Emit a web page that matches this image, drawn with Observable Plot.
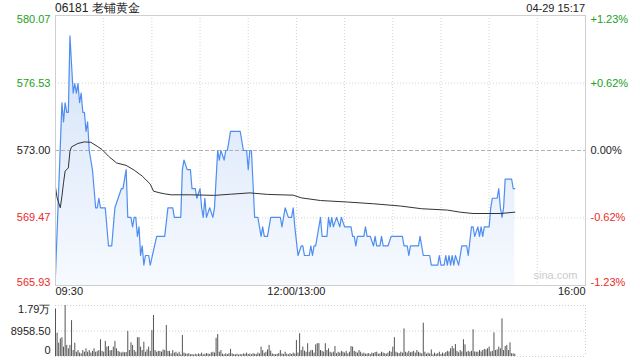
<!DOCTYPE html>
<html><head><meta charset="utf-8">
<script src="https://cdn.jsdelivr.net/npm/d3@7"></script>
<script src="https://cdn.jsdelivr.net/npm/@observablehq/plot@0.6"></script>
<style>
body{margin:0;background:#fff;font-family:"Liberation Sans",Arial,sans-serif;}
#wrap{position:relative;width:640px;height:360px;overflow:hidden;background:#fff;}
.hdr{position:absolute;top:0;color:#222;line-height:16px;white-space:nowrap;}
#price{position:absolute;left:0;top:0;}
#vol{position:absolute;left:0;top:300px;}
</style></head><body>
<div id="wrap">
  <div class="hdr" id="title" style="left:55px;font-size:12px"></div>
  <div class="hdr" id="stamp" style="right:55px;font-size:11px"></div>
  <div id="price"></div>
  <div id="vol"></div>
</div>
<script>
// ---- data ----
const stockTitle = "06181 老铺黄金";
const timeStamp = "04-29 15:17";
const prevClose = 573.00;
const priceTicks = [580.07, 576.53, 573.00, 569.47, 565.93];
const pctLabels = ["+1.23%", "+0.62%", "0.00%", "-0.62%", "-1.23%"];
const timeTicks = [0, 150, 330];           // trading minutes since 09:30 (lunch removed)
const timeLabels = ["09:30", "12:00/13:00", "16:00"];
const volTicks = [17917, 8958.5, 0];
const volLabels = ["1.79万", "8958.50", "0"];

const priceMin = [0,4,5,6,7,8,9,11,12,13,14,15,16,17,18,19,20,21,23,25,26,27,28,31,33,35,37,39,41,42,44,45,47,48,49,50,51,52,53,54,55,56,58,59,63,68,70,73,74,78,79,80,82,84,85,87,88,90,91,92,93,94,96,98,99,101,102,103,105,106,107,109,115,117,119,120,121,122,124,126,128,129,130,132,134,140,141,143,145,147,148,149,151,153,154,155,158,159,160,161,162,165,166,169,170,171,172,173,175,177,178,180,184,185,186,187,188,192,193,194,196,198,199,200,202,203,204,207,209,216,217,219,220,221,226,227,229,233,234,238,239,240,242,243,244,245,246,247,248,249,251,253,256,257,259,260,261,263,264,265,266,267,270,271,272,275,276,277,278,279,280,284,285,286];
const priceVal = [566.5,575.5,574.5,575.5,575.0,575.0,579.0,576.0,576.5,576.0,576.5,575.5,576.0,575.0,575.0,574.0,574.5,573.0,572.0,570.0,570.0,570.5,570.0,570.0,568.0,568.0,570.0,570.5,571.0,571.0,572.0,569.5,569.5,569.0,569.5,569.5,568.5,569.0,567.5,568.0,567.0,567.5,567.5,567.0,568.5,568.5,570.0,570.0,569.5,569.5,572.0,572.5,572.0,572.0,571.0,571.0,570.5,571.0,570.0,569.5,570.5,569.5,570.0,569.5,570.0,573.0,572.5,573.0,572.5,573.0,573.0,574.0,574.0,573.0,573.0,572.0,573.0,573.0,569.5,569.5,568.5,569.0,568.5,568.5,569.5,569.5,569.0,570.0,569.5,569.5,570.0,569.0,567.5,568.0,568.0,567.5,567.5,568.0,567.5,568.0,568.0,569.5,568.5,568.5,569.5,569.0,569.5,569.0,569.5,569.0,569.5,569.0,569.0,568.5,568.5,568.0,568.5,568.5,569.0,568.5,568.5,568.0,568.5,568.0,568.0,568.5,568.0,568.0,568.5,568.5,568.0,568.0,567.5,568.0,568.0,568.5,567.5,567.5,567.0,567.0,567.5,567.0,567.0,567.5,567.0,567.5,567.0,567.5,567.0,567.5,567.0,568.0,568.0,567.5,569.0,569.0,568.5,569.0,568.5,569.0,568.5,569.0,569.0,570.0,570.5,570.5,571.0,570.0,569.5,570.0,571.5,571.5,571.0,571.0];

const avgMin = [0,1,3,4,5,6,8,9,10,14,18,22,26,29,33,38,44,49,54,59,61,65,68,72,84,99,109,121,132,148,153,165,182,198,215,228,244,252,260,277,286];
const avgVal = [571.08,570.52,570.00,570.61,571.31,571.92,572.09,572.96,573.19,573.37,573.45,573.43,573.22,573.05,572.70,572.35,572.22,571.97,571.66,571.24,570.87,570.78,570.73,570.68,570.68,570.65,570.71,570.78,570.70,570.66,570.52,570.38,570.30,570.21,570.09,569.95,569.88,569.77,569.70,569.70,569.77];

const volume = [
16700,8200,4700,6200,6600,3300,17900,3900,2700,3900,
12600,2100,4700,1500,2100,1200,900,2100,1500,2700,
1500,2100,1200,1800,2700,1500,1700,2100,5900,1800,
1500,5300,3300,3500,2000,2100,3300,5300,2700,1800,
1500,1200,1500,1300,1400,8800,2100,4800,3900,2100,
1500,6600,6600,3300,2100,5000,1500,2300,3300,1800,
9100,14400,2100,1500,1800,1800,1500,2300,2100,10900,
1800,1800,900,2100,1200,1500,900,1500,600,7400,
1200,900,800,1000,600,700,500,800,600,900,
700,1200,600,800,1000,900,700,1300,1500,1200,
6400,7700,1500,2100,800,600,900,700,1000,2500,
900,700,600,800,500,700,600,900,800,1200,
700,900,600,1000,800,700,1200,900,3300,2100,
1100,1500,2300,3900,1900,900,700,600,800,1000,
2100,900,700,1500,800,600,1000,700,1200,900,
5600,1200,8000,2100,3300,1900,1500,4500,1500,2100,
2100,1200,4100,4500,4500,2100,1800,1500,4500,2100,
2700,1500,1200,1500,3500,1000,1500,1200,1800,1500,
1200,1800,900,1500,3500,3300,1800,1500,1200,2100,
1500,900,1200,800,900,1000,700,1200,1000,1400,
1500,800,900,1500,1200,1000,800,1200,1800,1500,
3300,6600,1500,1200,1000,1500,1200,9700,1500,1200,
1800,1300,1500,1800,1200,2100,1500,1200,900,11700,
1500,800,1200,900,2300,600,1200,800,1000,1500,
700,1200,900,1400,1800,1600,2700,3500,2700,4200,
1800,1300,2100,1600,5900,4100,1500,1800,1500,1800,
9400,1600,1500,1500,2100,1600,2100,2500,2300,2700,
3300,1600,1800,8300,2100,2300,3300,2700,13200,2100,
3500,3900,2100,4800,1000,900,800];

// ---- build ----
document.getElementById("title").textContent = stockTitle;
document.getElementById("stamp").textContent = timeStamp;

const priceData = priceMin.map((m, i) => ({m, p: priceVal[i]}));
const avgData = avgMin.map((m, i) => ({m, p: avgVal[i]}));
const volData = volume.map((v, i) => ({m: i, v}));
const yLo = priceTicks[priceTicks.length - 1], yHi = priceTicks[0];
const gridMin = d3.range(30, 330, 30);

const GREEN = "#22a022", RED = "#ee2a2a", BLACK = "#222";
const colorOf = v => v > prevClose + 0.001 ? GREEN : v < prevClose - 0.001 ? RED : BLACK;
const anchorOf = i => i === 0 ? "top" : i === priceTicks.length - 1 ? "bottom" : "middle";
const font = {fontFamily: "'Liberation Sans', Arial, sans-serif", fontSize: "11px", background: "transparent", overflow: "visible"};

function gradientDefs() {
  const ns = "http://www.w3.org/2000/svg";
  const defs = document.createElementNS(ns, "defs");
  defs.innerHTML = '<linearGradient id="pg" x1="0" y1="0" x2="0" y2="1">' +
    '<stop offset="0" stop-color="#d3e2f8"/><stop offset="1" stop-color="#f7faff"/></linearGradient>';
  return defs;
}

const pricePlot = Plot.plot({
  width: 640, height: 300,
  marginLeft: 55, marginRight: 55, marginTop: 15, marginBottom: 15,
  x: {domain: [0, 330], axis: null},
  y: {domain: [yLo, yHi], axis: null},
  style: font,
  marks: [
    gradientDefs,
    Plot.ruleX(gridMin, {x: d => d, stroke: "#d4d4d4", strokeDasharray: "1,2"}),
    Plot.ruleY([priceTicks[1], priceTicks[3]], {y: d => d, stroke: "#d4d4d4", strokeDasharray: "1,2"}),
    Plot.areaY(priceData, {x: "m", y1: yLo, y2: "p", fill: "url(#pg)", curve: "linear"}),
    Plot.ruleY([prevClose], {y: d => d, stroke: "#b0b0b0", strokeDasharray: "4,2"}),
    Plot.line(priceData, {x: "m", y: "p", stroke: "#4f8ef0", strokeWidth: 1.2}),
    Plot.line(avgData, {x: "m", y: "p", stroke: "#333", strokeWidth: 1}),
    Plot.frame({stroke: "#cfcfcf"}),
    ...priceTicks.map((v, i) => Plot.text([v], {
      y: d => d, text: d => d.toFixed(2), frameAnchor: "left", textAnchor: "end",
      dx: -5, lineAnchor: anchorOf(i), fill: colorOf(v)})),
    ...priceTicks.map((v, i) => Plot.text([pctLabels[i]], {
      y: () => v, text: d => d, frameAnchor: "right", textAnchor: "start",
      dx: 5, lineAnchor: anchorOf(i), fill: colorOf(v)})),
    ...timeTicks.map((t, i) => Plot.text([timeLabels[i]], {
      x: () => t, text: d => d, frameAnchor: "bottom", dy: 9, fill: BLACK,
      textAnchor: i === 0 ? "start" : i === timeTicks.length - 1 ? "end" : "middle"})),
    Plot.text(["sina.com"], {text: d => d, frameAnchor: "bottom-right", dx: -8, dy: -7,
      textAnchor: "end", fill: "#cbcbcb"})
  ]
});
document.getElementById("price").appendChild(pricePlot);

const volPlot = Plot.plot({
  width: 640, height: 60,
  marginLeft: 55, marginRight: 55, marginTop: 5, marginBottom: 4,
  x: {domain: [0, 330], axis: null},
  y: {domain: [0, volTicks[0]], axis: null},
  style: font,
  marks: [
    Plot.ruleY(volTicks, {y: d => d, stroke: "#d0d0d0", strokeDasharray: "1,2"}),
    Plot.ruleX([330], {x: d => d, stroke: "#d0d0d0", strokeDasharray: "1,2"}),
    Plot.ruleX(volData, {x: "m", y1: 0, y2: "v", stroke: "#555", strokeWidth: 1}),
    ...volTicks.map((v, i) => Plot.text([volLabels[i]], {
      y: () => v, text: d => d, frameAnchor: "left", textAnchor: "end", dx: -5, fill: BLACK,
      dy: i === volTicks.length - 1 ? -3 : 0,
      lineAnchor: i === 0 ? "top" : i === volTicks.length - 1 ? "bottom" : "middle"}))
  ]
});
document.getElementById("vol").appendChild(volPlot);
</script>
</body></html>
